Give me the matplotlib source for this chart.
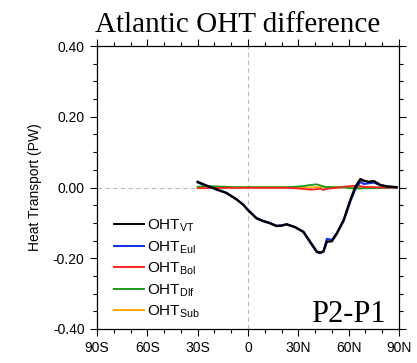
import matplotlib
matplotlib.use("Agg")
import matplotlib.pyplot as plt
from matplotlib.ticker import MultipleLocator
import numpy as np

plt.rcParams['font.family'] = ['Liberation Sans', 'DejaVu Sans']
plt.rcParams['mathtext.fontset'] = 'custom'
plt.rcParams['mathtext.rm'] = 'Liberation Sans'
plt.rcParams['mathtext.it'] = 'Liberation Sans'

# Latitude grid (degrees, negative = south)
lat = [-30, -25, -19, -13, -7, -3, 0, 5, 9, 13, 17, 20, 23, 28, 33, 37, 41, 43, 45,
       47, 50, 53, 57, 61, 64, 67, 69, 72, 75, 79, 83, 86, 88.5]

# Total (VT) heat transport difference, PW
oht_vt = [0.016, 0.006, -0.005, -0.015, -0.033, -0.048, -0.064, -0.087, -0.095, -0.101,
          -0.109, -0.108, -0.104, -0.112, -0.125, -0.153, -0.181, -0.184, -0.181,
          -0.153, -0.152, -0.130, -0.092, -0.035, 0.002, 0.024, 0.019, 0.016, 0.018,
          0.007, 0.003, 0.002, 0.001]
# Eulerian-mean component
oht_eul = [0.014, 0.005, -0.005, -0.015, -0.033, -0.048, -0.063, -0.086, -0.094, -0.100,
           -0.108, -0.107, -0.104, -0.112, -0.126, -0.155, -0.183, -0.186, -0.180,
           -0.145, -0.148, -0.128, -0.095, -0.040, -0.004, 0.016, 0.010, 0.012, 0.014,
           0.006, 0.003, 0.001, 0.000]
# Bolus component
oht_bol = [-0.002, -0.002, -0.001, -0.001, -0.001, -0.001, -0.001, -0.001, -0.001, -0.001,
           -0.001, -0.001, -0.001, -0.002, -0.004, -0.006, -0.005, -0.003, -0.007,
           -0.004, -0.002, -0.001, 0.002, 0.004, 0.005, 0.004, 0.002, 0.001, 0.001,
           0.000, 0.000, 0.000, 0.000]
# Diffusive component
oht_dlf = [0.002, 0.004, 0.003, 0.002, 0.001, 0.001, 0.001, 0.001, 0.001, 0.001,
           0.001, 0.001, 0.001, 0.002, 0.004, 0.007, 0.009, 0.006, 0.003,
           0.001, 0.001, 0.001, 0.000, -0.002, -0.003, -0.003, -0.002, -0.002, -0.002,
           -0.001, -0.001, 0.000, 0.000]
# Submesoscale component
oht_sub = [0.000, 0.000, 0.000, 0.000, 0.000, 0.000, 0.000, 0.000, 0.000, 0.000,
           0.000, 0.000, 0.000, 0.000, 0.000, 0.000, 0.001, 0.001, 0.001,
           0.001, 0.001, 0.001, 0.001, 0.001, 0.000, 0.000, 0.000, 0.000, 0.000,
           0.000, 0.000, 0.000, 0.000]

xticks = [-90, -60, -30, 0, 30, 60, 90]
xticklabels = ['90S', '60S', '30S', '0', '30N', '60N', '90N']
yticks = [-0.4, -0.2, 0.0, 0.2, 0.4]
yticklabels = ['-0.40', '-0.20', '0.00', '0.20', '0.40']

fig = plt.figure(figsize=(4.17, 3.63), dpi=100)
ax = fig.add_axes([97/417, 1 - 329/363, 302/417, 283/363])

ax.axhline(0, color='#bbbbbb', lw=0.8, ls=(0, (4, 3)), zorder=1)
ax.axvline(0, color='#bbbbbb', lw=0.8, ls=(0, (4, 3)), zorder=1)

ax.plot(lat, oht_sub, color='#ffa500', lw=1.3, label=r'OHT$_{\rm Sub}$', zorder=2)
ax.plot(lat, oht_dlf, color='#1a9a1a', lw=1.3, label=r'OHT$_{\rm Dlf}$', zorder=3)
ax.plot(lat, oht_bol, color='#ff2020', lw=1.3, label=r'OHT$_{\rm Bol}$', zorder=4)
ax.plot(lat, oht_eul, color='#1030e0', lw=1.5, label=r'OHT$_{\rm Eul}$', zorder=5)
ax.plot(lat, oht_vt, color='black', lw=1.7, label=r'OHT$_{\rm VT}$', zorder=6)

ax.set_xlim(-90, 90)
ax.set_ylim(-0.4, 0.4)
ax.set_xticks(xticks)
ax.set_xticklabels(xticklabels)
ax.set_yticks(yticks)
ax.set_yticklabels(yticklabels)
ax.xaxis.set_minor_locator(MultipleLocator(10))
ax.yaxis.set_minor_locator(MultipleLocator(0.05))
ax.tick_params(which='both', direction='out', top=True, right=True,
               labeltop=False, labelright=False, labelsize=10, width=0.8)
ax.tick_params(which='major', length=5, pad=4)
ax.tick_params(which='minor', length=3)
for s in ax.spines.values():
    s.set_linewidth(0.9)

ax.set_ylabel('Heat Transport (PW)', fontsize=10, labelpad=8)

handles, labels = ax.get_legend_handles_labels()
order = [4, 3, 2, 1, 0]
leg = ax.legend([handles[i] for i in order], [labels[i] for i in order],
                loc='lower left', bbox_to_anchor=(0.02, -0.006), frameon=False,
                fontsize=11, handlelength=2.0, handletextpad=0.15,
                labelspacing=0.33, borderaxespad=0.3)
for line in leg.get_lines():
    line.set_linewidth(1.4)

ax.text(386/417, 1 - 321.5/363, 'P2-P1', transform=fig.transFigure, ha='right',
        va='baseline', fontsize=22, family='Liberation Serif')
fig.text(238/417, 1 - 32/363, 'Atlantic OHT difference', ha='center', va='baseline',
         fontsize=21, family='Liberation Serif')

fig.savefig('out.png', dpi=100)
